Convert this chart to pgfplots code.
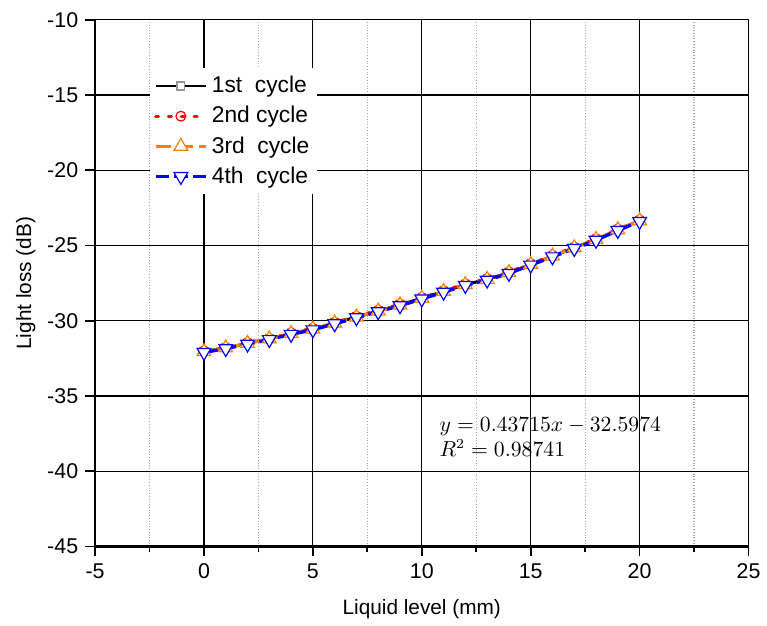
\documentclass[border=0pt]{standalone}
\usepackage{fontspec}
\setmainfont{Liberation Sans}
\usepackage{pgfplots}
\pgfplotsset{compat=1.18}

\definecolor{cyc2}{RGB}{255,0,0}
\definecolor{cyc3}{RGB}{255,127,0}
\definecolor{cyc4}{RGB}{0,0,255}
\definecolor{sqgray}{RGB}{150,150,150}

\begin{document}
\begin{tikzpicture}
\begin{axis}[
    scale only axis,
    width=330pt, height=266pt,
    xmin=-5, xmax=25, ymin=-45, ymax=-10,
    xtick={-5,0,...,25}, ytick={-45,-40,...,-10},
    minor x tick num=1,
    axis x line*=bottom, axis y line*=left,
    axis line style={-, line width=1.1pt},
    tick align=outside,
    major tick length=5pt, minor tick length=3pt,
    every tick/.style={black, line width=0.9pt},
    xmajorgrids, ymajorgrids, xminorgrids,
    major grid style={black, line width=0.6pt},
    minor grid style={gray!70, densely dotted, line width=0.6pt},
    tick label style={font=\fontsize{10.8}{12}\selectfont},
    /pgf/number format/assume math mode=true,
    label style={font=\fontsize{10.5}{12}\selectfont},
    xlabel={Liquid level (mm)},
    ylabel={Light loss (dB)},
    xlabel style={at={(axis description cs:0.5,-0.118)}, anchor=center},
    ylabel style={at={(axis description cs:-0.106,0.5)}, anchor=center},
    legend style={at={(axis cs:-2.5,-13.2)}, anchor=north west, draw=none, fill=white,
        font=\fontsize{11.5}{13}\selectfont, row sep=1.4pt, inner sep=2pt},
    legend cell align=left,
    legend image code/.code={\draw[mark repeat=2, mark phase=2]
        plot coordinates {(0cm,0cm) (0.45cm,0cm) (0.9cm,0cm)};},
]

% 1st cycle
\addplot[black, line width=1.5pt, mark=square*, mark size=2pt,
    mark options={solid, draw=sqgray, fill=white, line width=0.6pt}] coordinates {
(0,-32.05) (1,-31.8) (2,-31.5) (3,-31.2) (4,-30.85) (5,-30.55) (6,-30.15)
(7,-29.75) (8,-29.35) (9,-28.95) (10,-28.5) (11,-28.05) (12,-27.6) (13,-27.25)
(14,-26.8) (15,-26.25) (16,-25.7) (17,-25.15) (18,-24.6) (19,-23.95) (20,-23.35)
};
% 2nd cycle
\addplot[cyc2, dash pattern=on 1.5pt off 5pt, line cap=round, line width=1.5pt,
    mark=o, mark size=2.5pt,
    mark options={solid, fill=white, line width=0.6pt}] coordinates {
(0,-32.0) (1,-31.8) (2,-31.45) (3,-31.2) (4,-30.8) (5,-30.5) (6,-30.1)
(7,-29.7) (8,-29.3) (9,-28.9) (10,-28.45) (11,-28.0) (12,-27.55) (13,-27.2)
(14,-26.75) (15,-26.2) (16,-25.65) (17,-25.1) (18,-24.55) (19,-23.9) (20,-23.3)
};
% 3rd cycle
\addplot[cyc3, dash pattern=on 8pt off 3pt, line width=1.5pt, mark=triangle*, mark size=4pt,
    mark options={solid, fill=white, line width=0.6pt}] coordinates {
(0,-32.05) (1,-31.8) (2,-31.5) (3,-31.2) (4,-30.85) (5,-30.55) (6,-30.15)
(7,-29.75) (8,-29.35) (9,-28.95) (10,-28.5) (11,-28.05) (12,-27.6) (13,-27.25)
(14,-26.8) (15,-26.25) (16,-25.7) (17,-25.15) (18,-24.6) (19,-23.95) (20,-23.35)
};
% 4th cycle
\addplot[cyc4, dash pattern=on 7pt off 2.5pt, line width=1.7pt, mark=triangle*, mark size=4pt,
    mark options={solid, fill=white, line width=0.6pt, rotate=180}] coordinates {
(0,-32.1) (1,-31.85) (2,-31.55) (3,-31.25) (4,-30.9) (5,-30.6) (6,-30.2)
(7,-29.8) (8,-29.4) (9,-29.0) (10,-28.55) (11,-28.1) (12,-27.65) (13,-27.3)
(14,-26.85) (15,-26.3) (16,-25.75) (17,-25.2) (18,-24.65) (19,-24.0) (20,-23.4)
};

\legend{1st\ \ cycle, 2nd cycle, 3rd\ \ cycle, 4th\ \ cycle}

\node[anchor=north west, align=left, inner sep=0pt, font=\fontsize{10.5}{12.5}\selectfont]
    at (axis cs:10.8,-36.4) {$y = 0.43715x - 32.5974$\\$R^2 = 0.98741$};

\coordinate (SW) at (rel axis cs:0,0);
\coordinate (NE) at (rel axis cs:1,1);
\end{axis}
% page margins as in the reference
\path (SW) ++(-48pt,-40pt);
\path (NE) ++(5.5pt,10pt);
\end{tikzpicture}
\end{document}
